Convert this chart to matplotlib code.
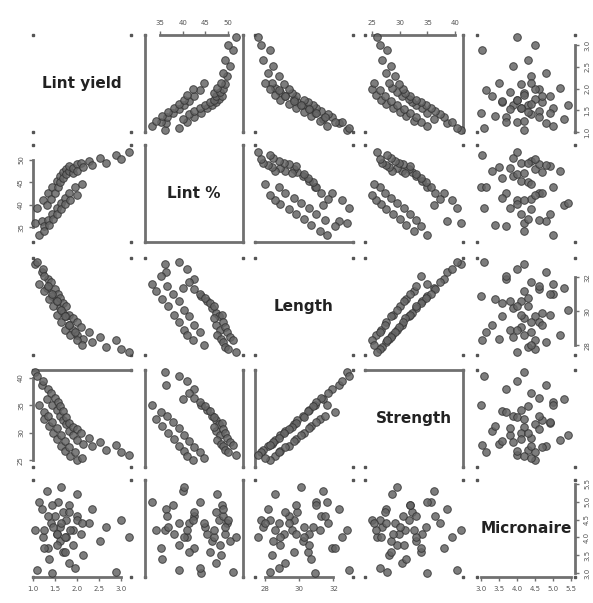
import matplotlib
matplotlib.use("Agg")
import matplotlib.pyplot as plt

names = ["Lint yield", "Lint %", "Length", "Strength", "Micronaire"]

# two growing groups (first 32 / last 18 plots)
lint_yield = [1.05, 1.10, 1.20, 1.22, 1.31, 1.34, 1.42, 1.44, 1.49, 1.55,
              1.56, 1.62, 1.61, 1.68, 1.69, 1.75, 1.74, 1.82, 1.83, 1.90,
              1.91, 1.99, 2.01, 2.10, 2.13, 2.28, 2.35, 2.52, 2.65, 2.88,
              3.00, 3.18,
              1.13, 1.24, 1.26, 1.35, 1.36, 1.44, 1.46, 1.54, 1.55, 1.63,
              1.64, 1.72, 1.73, 1.83, 1.85, 1.96, 2.00, 2.12]
lint_pct = [36.0, 39.2, 36.4, 41.0, 40.0, 42.5, 41.3, 44.0, 42.6, 45.3,
            43.9, 46.4, 45.0, 47.3, 46.0, 48.0, 46.8, 47.4, 48.6, 47.0,
            48.2, 49.0, 47.6, 49.4, 48.4, 49.8, 48.8, 50.4, 49.3, 51.0,
            50.1, 51.8,
            33.2, 35.3, 34.1, 36.6, 35.4, 37.9, 36.8, 39.2, 38.0, 40.4,
            39.1, 41.5, 40.2, 42.6, 41.0, 43.9, 42.2, 44.6]
length = [32.8, 32.9, 32.3, 32.5, 31.4, 31.9, 31.7, 30.9, 31.3, 30.6,
          31.0, 30.2, 30.8, 29.9, 30.5, 29.7, 30.3, 29.2, 29.8, 29.6,
          28.9, 29.4, 28.6, 29.1, 28.4, 28.8, 28.2, 28.5, 27.9, 28.3,
          27.8, 27.6,
          31.6, 32.1, 31.2, 31.5, 30.7, 31.0, 30.3, 30.6, 29.8, 30.1,
          29.4, 29.7, 28.9, 29.2, 28.6, 28.8, 28.3, 28.0]
strength = [41.0, 40.3, 38.6, 39.4, 36.2, 38.0, 37.3, 35.0, 36.4, 34.1,
            35.6, 33.0, 34.8, 32.3, 33.9, 31.6, 32.9, 30.4, 31.8, 31.0,
            29.5, 30.6, 28.7, 29.9, 28.0, 29.1, 27.5, 28.4, 26.9, 27.7,
            26.5, 26.0,
            35.0, 33.8, 32.5, 33.0, 31.2, 31.9, 30.0, 30.8, 28.8, 29.6,
            27.6, 28.5, 26.7, 27.4, 25.8, 26.5, 25.0, 25.4]
micronaire = [4.2, 3.1, 4.8, 4.0, 5.3, 3.7, 4.4, 3.0, 4.6, 4.1,
              5.0, 3.9, 4.3, 4.7, 3.6, 4.5, 4.0, 3.3, 4.9, 4.2,
              3.8, 4.6, 5.2, 4.1, 3.5, 4.4, 4.8, 3.9, 4.3, 3.05,
              4.5, 4.0,
              5.0, 3.7, 4.2, 4.6, 3.4, 4.9, 4.3, 3.8, 4.1, 5.4,
              4.4, 3.6, 4.0, 4.7, 4.2, 3.15, 4.5, 4.4]
data = [lint_yield, lint_pct, length, strength, micronaire]

limits = [(1.0, 3.23), (31.7, 53.3), (27.43, 33.14), (23.77, 41.4), (2.9, 5.6)]
ticks = [[1.0, 1.5, 2.0, 2.5, 3.0], [35, 40, 45, 50], [28, 30, 32],
         [25, 30, 35, 40], [3.0, 3.5, 4.0, 4.5, 5.0, 5.5]]

# panel frame pieces that survive in the reference
frames = {
    (0, 1): "lr", (0, 3): "r",
    (1, 1): "lrb", (1, 2): "b",
    (3, 0): "t", (3, 1): "lr", (3, 2): "l", (3, 3): "tr",
    (4, 1): "lr",
}
side = {"l": "left", "r": "right", "t": "top", "b": "bottom"}

col_left = [33, 145, 255, 365, 477]
row_top = [35, 145, 258, 370, 480]
W, H = 593, 603
pw, ph = 98, 97

fig = plt.figure(figsize=(5.93, 6.03), dpi=100)
grey = "#707070"

for i in range(5):
    for j in range(5):
        ax = fig.add_axes([col_left[j] / W, 1 - (row_top[i] + ph) / H, pw / W, ph / H])
        ax.set_xlim(limits[j])
        ax.set_ylim(limits[i])
        if i == j:
            ax.text(0.5, 0.5, names[i], transform=ax.transAxes, ha="center",
                    va="center", fontsize=11, fontweight="bold", color="#222222")
        else:
            ax.scatter(data[j], data[i], s=30, c="#666666", edgecolors="#333333",
                       linewidths=0.7, alpha=0.85, zorder=3, clip_on=False)
        shown = frames.get((i, j), "")
        for k, s in side.items():
            ax.spines[s].set_visible(k in shown)
            ax.spines[s].set_color(grey)
            ax.spines[s].set_linewidth(2)
        ax.set_xticks([])
        ax.set_yticks([])
        ax.tick_params(colors=grey, labelcolor="#555555", labelsize=5,
                       length=3, width=1, direction="out")
        # R style outer axes, line only between first and last tick
        if i == 0 and j % 2 == 1:
            ax.set_xticks(ticks[j])
            ax.xaxis.tick_top()
            ax.spines["top"].set_visible(True)
            ax.spines["top"].set_bounds(ticks[j][0], ticks[j][-1])
        if i == 4 and j % 2 == 0:
            ax.set_xticks(ticks[j])
            ax.spines["bottom"].set_visible(True)
            ax.spines["bottom"].set_bounds(ticks[j][0], ticks[j][-1])
        if j == 0 and i % 2 == 1:
            ax.set_yticks(ticks[i])
            ax.spines["left"].set_visible(True)
            ax.spines["left"].set_bounds(ticks[i][0], ticks[i][-1])
            plt.setp(ax.get_yticklabels(), rotation=90, va="center")
        if j == 4 and i % 2 == 0:
            ax.set_yticks(ticks[i])
            ax.yaxis.tick_right()
            ax.spines["right"].set_visible(True)
            ax.spines["right"].set_bounds(ticks[i][0], ticks[i][-1])
            plt.setp(ax.get_yticklabels(), rotation=90, va="center")
        # small marks left at the box corners
        for cx in (0, 1):
            for cy in (0, 1):
                ax.plot(cx, cy, marker="s", ms=1.6, color="#555555",
                        transform=ax.transAxes, clip_on=False, zorder=1)

fig.savefig("out.png", dpi=100)
